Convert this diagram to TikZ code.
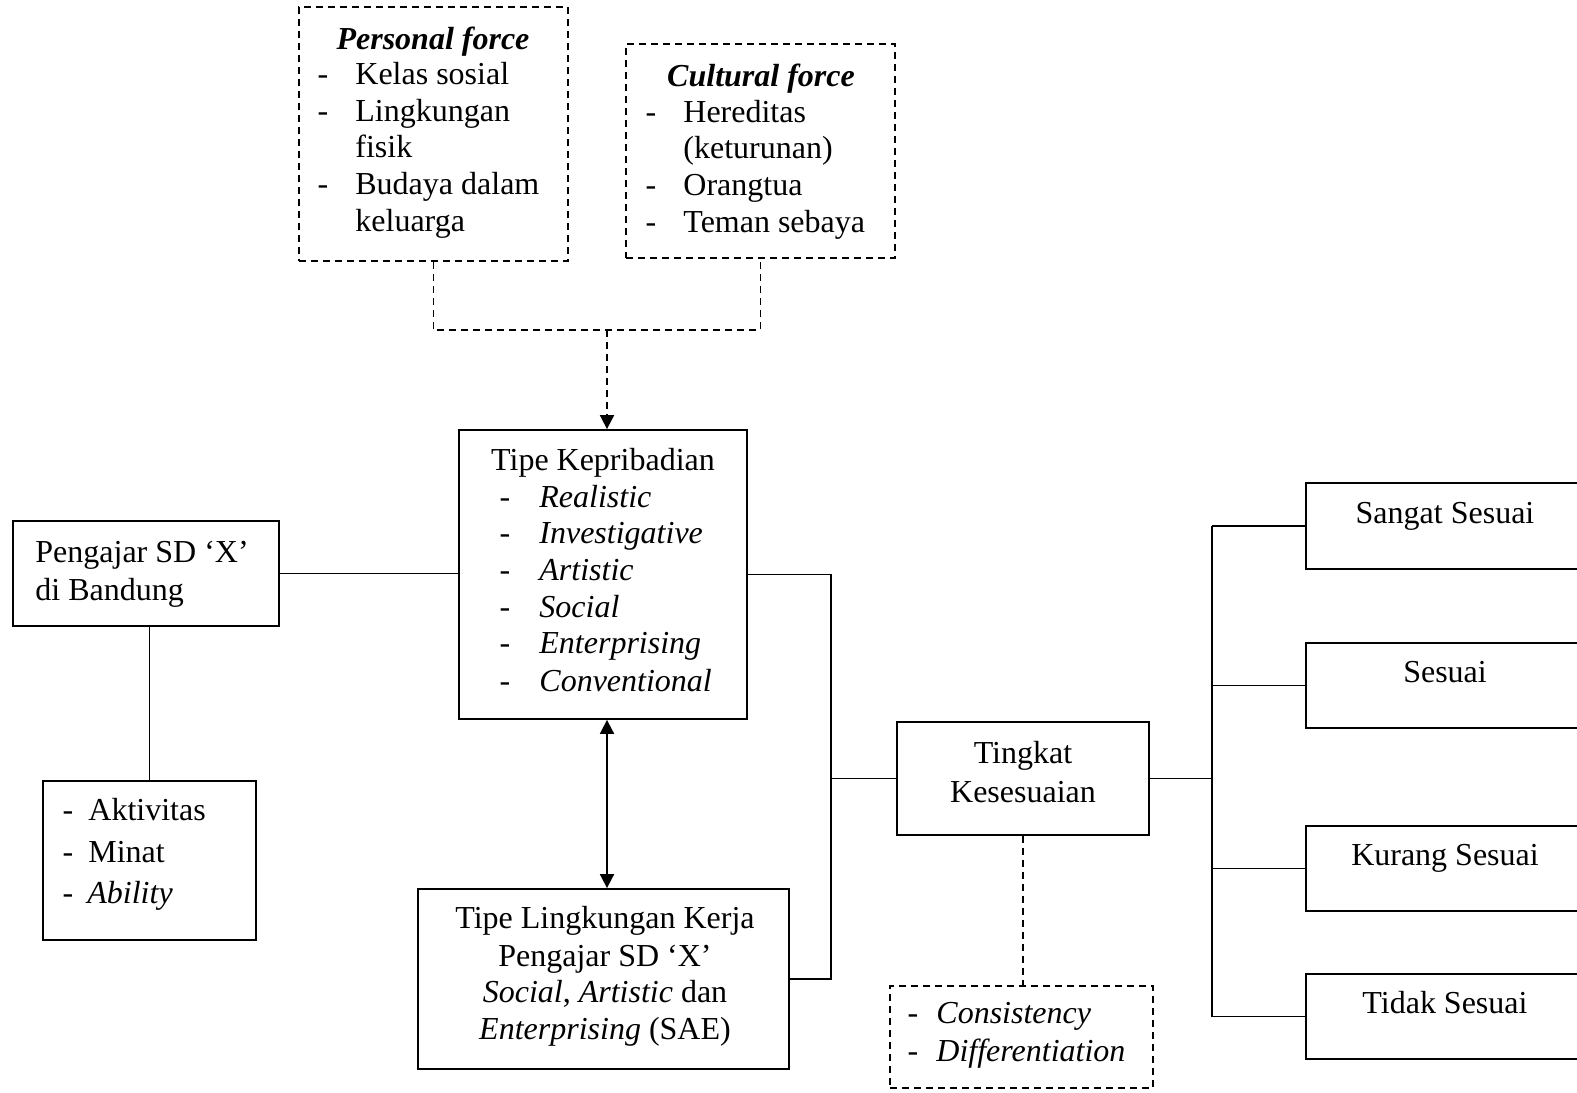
\documentclass[tikz,border=0pt]{standalone}
\usepackage{fontspec}
\setmainfont{Liberation Serif}
\usetikzlibrary{arrows.meta,fit}
\tikzset{
  box/.style={draw, line width=0.9pt, inner sep=0pt},
  dbox/.style={box, dash pattern=on 3.5pt off 2.5pt},
  ln/.style={line width=0.9pt},
  dln/.style={line width=0.9pt, dash pattern=on 3.5pt off 2.5pt},
  tip/.style={-{Triangle[length=7pt,width=7pt]}},
  dtip/.style={{Triangle[length=7pt,width=7pt]}-{Triangle[length=7pt,width=7pt]}},
  lt/.style={anchor=base west, inner sep=0pt},
  ct/.style={anchor=base, inner sep=0pt},
}
\begin{document}
\begin{tikzpicture}[x=0.5pt,y=-0.5pt,font=\fontsize{16}{18.5}\selectfont]
\useasboundingbox (0,0) rectangle (1577,1092);
\clip (0,0) rectangle (1577,1092);
% Personal force
\node[dbox, fit={(299,7) (568,261)}] (pf) {};
\node[ct] (pft) at (433,49) {\textbf{\textit{Personal force}}};
\node[ct] (pfd1) at (323,84) {-}; \node[lt] (pf1) at (355,84) {Kelas sosial};
\node[ct] (pfd2) at (323,121) {-}; \node[lt] (pf2) at (355,121) {Lingkungan};
\node[lt] (pf3) at (355,157) {fisik};
\node[ct] (pfd4) at (323,194) {-}; \node[lt] (pf4) at (355,194) {Budaya dalam};
\node[lt] (pf5) at (355,231) {keluarga};
% Cultural force
\node[dbox, fit={(626,44) (895,258)}] (cf) {};
\node[ct] (cft) at (761,86) {\textbf{\textit{Cultural force}}};
\node[ct] (cfd1) at (651,122) {-}; \node[lt] (cf1) at (683,122) {Hereditas};
\node[lt] (cf2) at (683,158) {(keturunan)};
\node[ct] (cfd3) at (651,195) {-}; \node[lt] (cf3) at (683,195) {Orangtua};
\node[ct] (cfd4) at (651,232) {-}; \node[lt] (cf4) at (683,232) {Teman sebaya};
% Tipe Kepribadian
\node[box, fit={(459,430) (747,719)}] (tk) {};
\node[ct] (tkt) at (603,470) {Tipe Kepribadian};
\foreach \y/\w [count=\i] in {507/Realistic,543/Investigative,580/Artistic,617/Social,653/Enterprising,691/Conventional}{
  \node[ct] (tkd\i) at (505,\y) {-};
  \node[lt] (tk\i) at (539,\y) {\textit{\w}};
}
% Pengajar
\node[box, fit={(13,521) (279,626)}] (pg) {};
\node[lt] (pg1) at (35,562) {Pengajar SD ‘X’};
\node[lt] (pg2) at (35,600) {di Bandung};
% Aktivitas
\node[box, fit={(43,781) (256,940)}] (av) {};
\node[ct] (avd1) at (68,820) {-}; \node[lt] (av1) at (88,820) {Aktivitas};
\node[ct] (avd2) at (68,862) {-}; \node[lt] (av2) at (88,862) {Minat};
\node[ct] (avd3) at (68,903) {-}; \node[lt] (av3) at (87,903) {\textit{Ability}};
% Tipe Lingkungan
\node[box, fit={(418,889) (789,1069)}] (tl) {};
\node[ct] (tl1) at (605,928) {Tipe Lingkungan Kerja};
\node[ct] (tl2) at (605,966) {Pengajar SD ‘X’};
\node[ct] (tl3) at (605,1002) {\textit{Social}, \textit{Artistic} dan};
\node[ct] (tl4) at (605,1039) {\textit{Enterprising} (SAE)};
% Tingkat
\node[box, fit={(897,722) (1149,835)}] (tg) {};
\node[ct] (tg1) at (1023,763) {Tingkat};
\node[ct] (tg2) at (1023,802) {Kesesuaian};
% Consistency
\node[dbox, fit={(890,986) (1153,1088)}] (cd) {};
\node[ct] (cdd1) at (913,1023) {-}; \node[lt] (cd1) at (936,1023) {\textit{Consistency}};
\node[ct] (cdd2) at (913,1061) {-}; \node[lt] (cd2) at (936,1061) {\textit{Differentiation}};
% Right boxes
\node[box, fit={(1306,483) (1584,569)}] (s1) {};
\node[ct] (s1t) at (1445,523) {Sangat Sesuai};
\node[box, fit={(1306,643) (1584,728)}] (s2) {};
\node[ct] (s2t) at (1445,682) {Sesuai};
\node[box, fit={(1306,826) (1584,911)}] (s3) {};
\node[ct] (s3t) at (1445,865) {Kurang Sesuai};
\node[box, fit={(1306,974) (1584,1059)}] (s4) {};
\node[ct] (s4t) at (1445,1013) {Tidak Sesuai};
% connectors
\coordinate (jn) at (607,330);
\coordinate (bx) at (831,0);
\coordinate (tx) at (1212,0);
\draw[dln] (pf.south) |- (jn) -| (cf.south);
\draw[dln,tip] (jn) -- (jn |- tk.north);
\draw[ln,dtip] (jn |- tk.south) -- (jn |- tl.north);
\draw[ln] (pg.east) -- (pg.east -| tk.west);
\draw[ln] (av.north) -- (av.north |- pg.south);
\draw[ln] (tk.east) -| (bx |- tl.east) -- (tl.east);
\draw[ln] (bx |- tg.west) -- (tg.west);
\draw[dln] (tg.south) -- (tg.south |- cd.north);
\draw[ln] (tg.east) -- (tg.east -| tx);
\draw[ln] (tx |- s1.west) -- (tx |- s4.west);
\draw[ln] (tx |- s1.west) -- (s1.west);
\draw[ln] (tx |- s2.west) -- (s2.west);
\draw[ln] (tx |- s3.west) -- (s3.west);
\draw[ln] (tx |- s4.west) -- (s4.west);
\end{tikzpicture}
\end{document}
